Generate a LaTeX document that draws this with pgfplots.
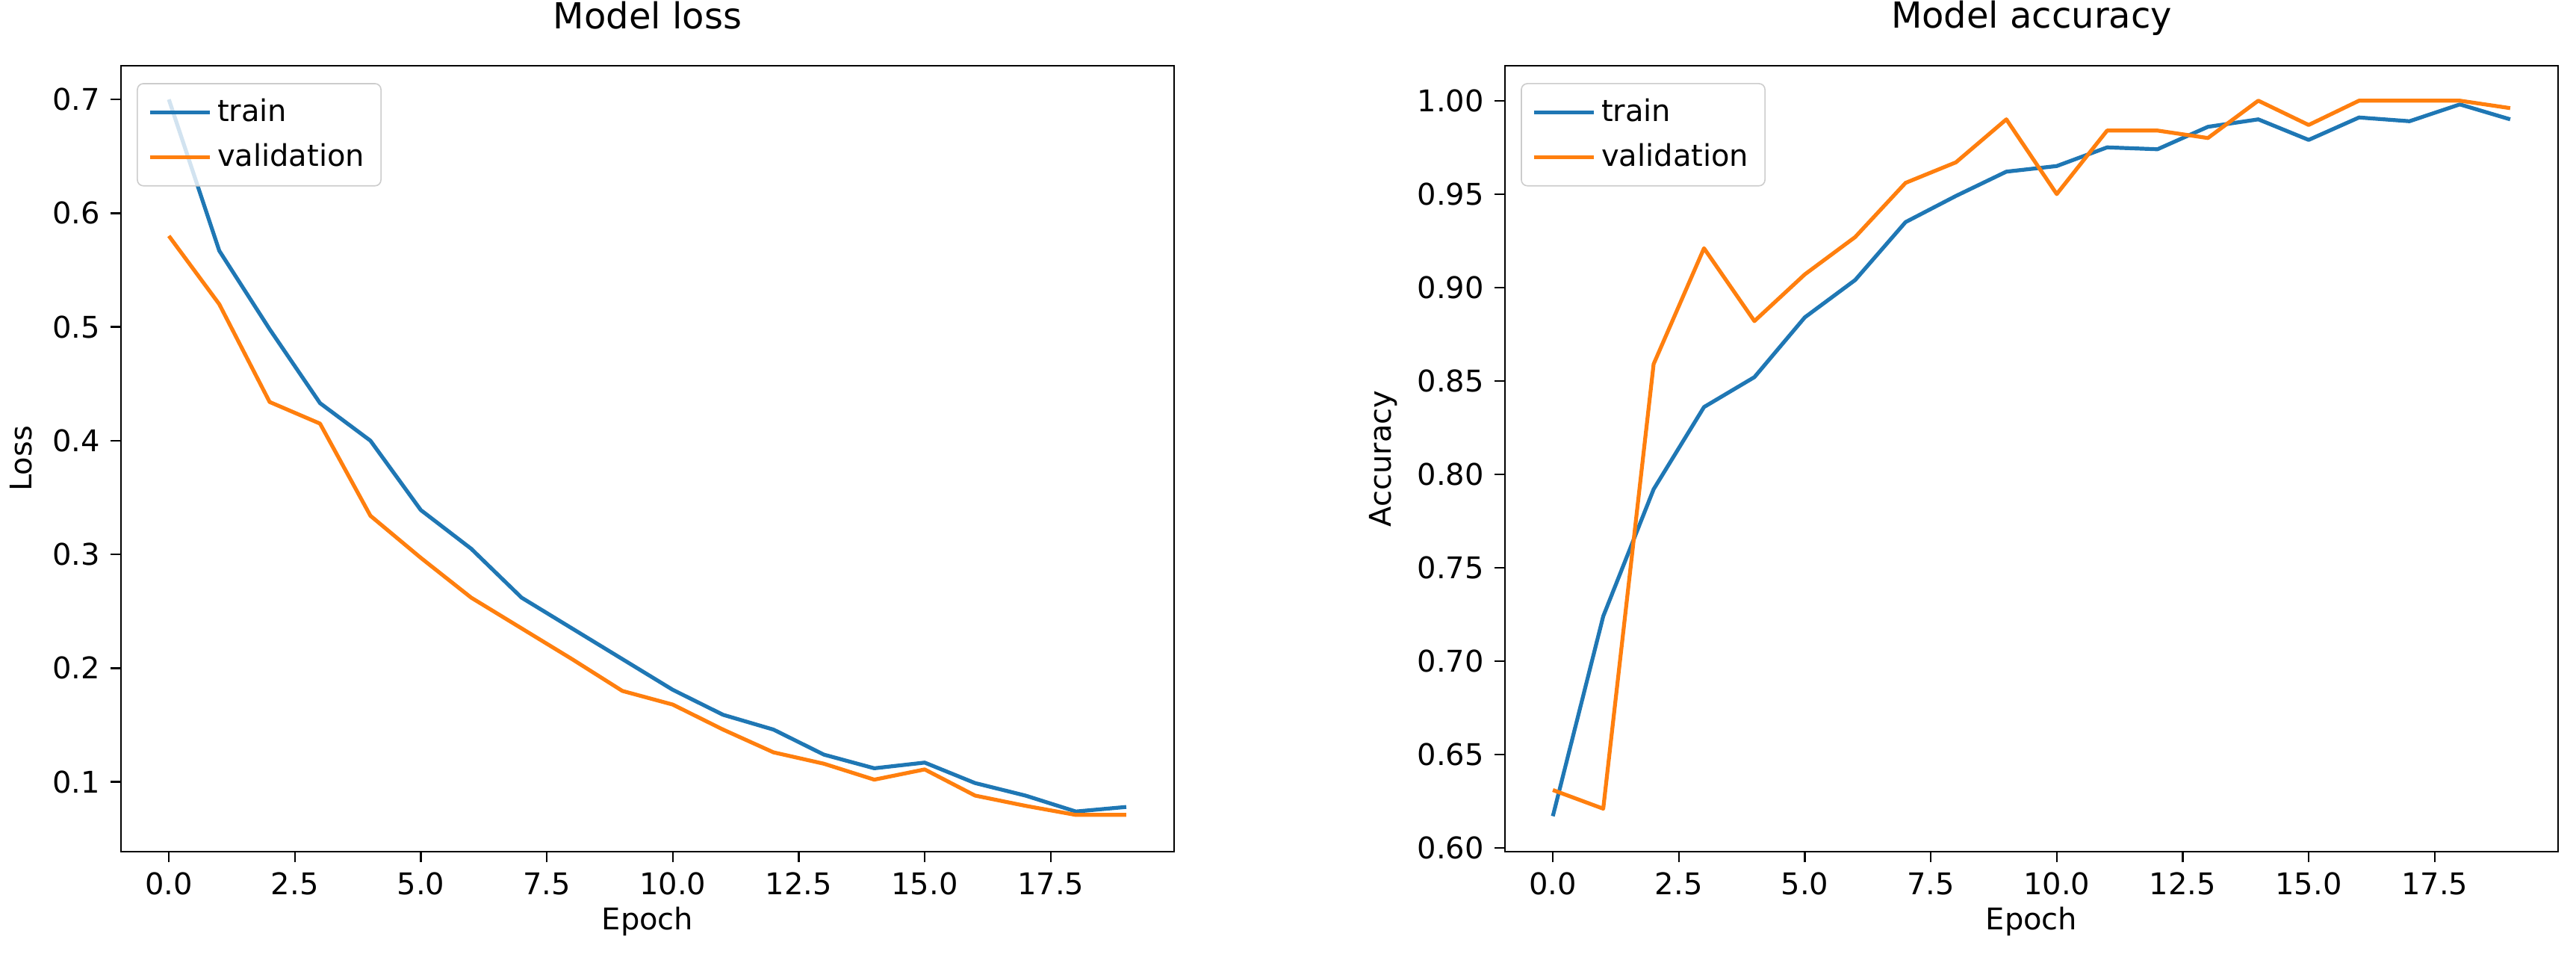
\documentclass[border=0pt]{standalone}
\usepackage{pgfplots}
\pgfplotsset{compat=1.18}
\usepackage{fontspec}
\setmainfont{DejaVu Sans}
\definecolor{mplblue}{HTML}{1F77B4}
\definecolor{mplorange}{HTML}{FF7F0E}

\pgfplotsset{
  mplstyle/.style={
    scale only axis,
    width=352.5pt, height=263pt,
    xmin=-0.95, xmax=19.95,
    xtick={0,2.5,...,17.5},
    tick align=outside,
    xtick pos=bottom, ytick pos=left,
    major tick length=3.5pt,
    tick style={black, line width=0.6pt},
    axis line style={line width=0.6pt},
    /pgf/number format/assume math mode=true,
    tick label style={font=\fontsize{10}{12}\selectfont},
    label style={font=\fontsize{10}{12}\selectfont},
    title style={font=\fontsize{12}{14}\selectfont, at={(0.5,1)}, anchor=base, yshift=6.5pt},
    xticklabel style={/pgf/number format/.cd, fixed, fixed zerofill, precision=1},
    xlabel={Epoch},
    xlabel style={yshift=3pt},
    legend cell align=left,
    legend style={at={(0.015,0.978)}, anchor=north west, draw=black!20,
      rounded corners=2pt, font=\fontsize{10}{12}\selectfont,
      fill opacity=0.8, draw opacity=1, text opacity=1,
      inner xsep=3.5pt, inner ysep=3pt, row sep=2pt},
    legend image code/.code={\draw[#1] (0pt,0pt) -- (20pt,0pt);},
    every axis plot/.append style={line width=1.3pt, line join=round},
  }
}

\pgfplotstableread{
epoch train val
0  0.700 0.580
1  0.567 0.520
2  0.498 0.434
3  0.433 0.415
4  0.400 0.334
5  0.339 0.297
6  0.305 0.262
7  0.262 0.235
8  0.235 0.208
9  0.208 0.180
10 0.181 0.168
11 0.159 0.146
12 0.146 0.126
13 0.124 0.116
14 0.112 0.102
15 0.117 0.111
16 0.099 0.088
17 0.088 0.079
18 0.074 0.071
19 0.078 0.071
}\losstable

\pgfplotstableread{
epoch train val
0  0.617 0.631
1  0.724 0.621
2  0.792 0.859
3  0.836 0.921
4  0.852 0.882
5  0.884 0.907
6  0.904 0.927
7  0.935 0.956
8  0.949 0.967
9  0.962 0.990
10 0.965 0.950
11 0.975 0.984
12 0.974 0.984
13 0.986 0.980
14 0.990 1.000
15 0.979 0.987
16 0.991 1.000
17 0.989 1.000
18 0.998 1.000
19 0.990 0.996
}\acctable

\begin{document}
\begin{tikzpicture}
\useasboundingbox (-40.5pt,-34pt) rectangle (821.75pt,285pt);

\begin{axis}[mplstyle,
  title={Model loss},
  ylabel={Loss},
  ymin=0.0387, ymax=0.7296,
  ytick={0.1,0.2,...,0.7},
  yticklabel style={/pgf/number format/.cd, fixed, fixed zerofill, precision=1},
]
\addplot[mplblue] table[x=epoch, y=train] {\losstable};
\addplot[mplorange] table[x=epoch, y=val] {\losstable};
\legend{train, validation}
\end{axis}

\begin{axis}[mplstyle, at={(463.25pt,0pt)},
  title={Model accuracy},
  ylabel={Accuracy},
  ymin=0.598, ymax=1.0187,
  ytick={0.60,0.65,...,1.001},
  yticklabel style={/pgf/number format/.cd, fixed, fixed zerofill, precision=2},
]
\addplot[mplblue] table[x=epoch, y=train] {\acctable};
\addplot[mplorange] table[x=epoch, y=val] {\acctable};
\legend{train, validation}
\end{axis}
\end{tikzpicture}
\end{document}
